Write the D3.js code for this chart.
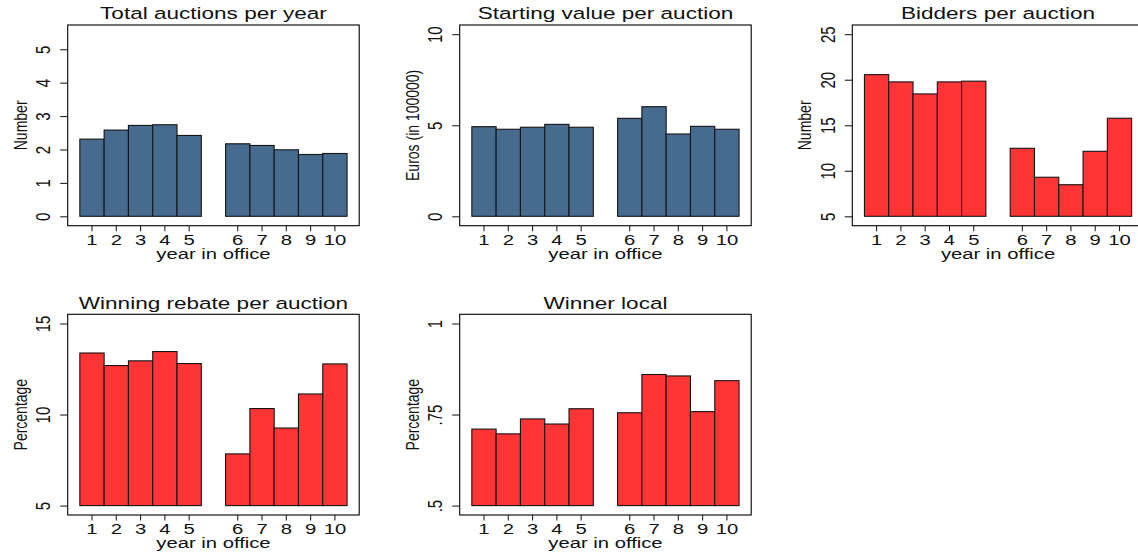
<!DOCTYPE html>
<html>
<head>
<meta charset="utf-8">
<script src="https://cdn.jsdelivr.net/npm/d3@7"></script>
<style>
  html, body { margin: 0; padding: 0; background: #fff; }
  svg { display: block; font-family: "Liberation Sans", Arial, Helvetica, sans-serif; }
</style>
</head>
<body>
<svg id="chart" width="1138" height="554"></svg>
<script>
// ---------- data ----------
const years = ["1","2","3","4","5","6","7","8","9","10"];
const xSlots = ["1","2","3","4","5","gap","6","7","8","9","10"];

const titles = ["Total auctions per year", "Starting value per auction", "Bidders per auction",
                "Winning rebate per auction", "Winner local"];
const yTitles = ["Number", "Euros (in 100000)", "Number", "Percentage", "Percentage"];

const auctionsPerYear = [2.31, 2.58, 2.72, 2.74, 2.42, 2.17, 2.12, 1.99, 1.85, 1.88];
const startingValue   = [4.92, 4.78, 4.89, 5.05, 4.89, 5.38, 6.02, 4.52, 4.94, 4.78];
const biddersPerAuct  = [20.56, 19.76, 18.44, 19.76, 19.84, 12.47, 9.29, 8.47, 12.14, 15.77];
const winningRebate   = [13.38, 12.69, 12.95, 13.46, 12.80, 7.84, 10.33, 9.26, 11.13, 12.78];
const winnerLocal     = [0.710, 0.697, 0.738, 0.724, 0.766, 0.755, 0.860, 0.856, 0.758, 0.843];

const ticksAuctions = [0, 1, 2, 3, 4, 5];
const ticksStarting = [0, 5, 10];
const ticksBidders  = [5, 10, 15, 20, 25];
const ticksRebate   = [5, 10, 15];
const ticksLocal    = [0.5, 0.75, 1];
const labelsLocal   = [".5", ".75", "1"];

const yDomains = [[0, 5.45], [0, 10], [5, 25], [5, 15], [0.5, 1]];

// ---------- layout ----------
const SX = 1.35;               // horizontal stretch of the original image
const frameW = 291.5, frameH = 200.7;
const lefts = [67.7, 459.7, 852.3, 67.7, 459.7];
const tops  = [25, 25, 25, 314.3, 314.3];
const blue = "#476b8e", red = "#ff3535";

const panels = [
  { values: auctionsPerYear, ticks: ticksAuctions, labels: null, color: blue },
  { values: startingValue,   ticks: ticksStarting, labels: null, color: blue },
  { values: biddersPerAuct,  ticks: ticksBidders,  labels: null, color: red },
  { values: winningRebate,   ticks: ticksRebate,   labels: null, color: red },
  { values: winnerLocal,     ticks: ticksLocal,    labels: labelsLocal, color: red }
];

const svg = d3.select("#chart");

panels.forEach((p, i) => {
  const L = lefts[i], T = tops[i], B = T + frameH;
  const g = svg.append("g");

  const x = d3.scaleBand().domain(xSlots).range([L, L + frameW]).paddingInner(0).paddingOuter(0.5);
  const y = d3.scaleLinear().domain(yDomains[i]).range([B - 9.4, T + 9.2]);
  const base = yDomains[i][0];

  // frame
  g.append("rect")
    .attr("x", L).attr("y", T).attr("width", frameW).attr("height", frameH)
    .attr("fill", "none").attr("stroke", "#000").attr("stroke-width", 1.1);

  // bars
  g.selectAll("rect.bar").data(p.values).join("rect")
    .attr("class", "bar")
    .attr("x", (d, j) => x(years[j]))
    .attr("width", x.bandwidth())
    .attr("y", d => y(d))
    .attr("height", d => y(base) - y(d))
    .attr("fill", p.color)
    .attr("stroke", "#151515")
    .attr("stroke-width", 1.1);

  // y axis
  const yAxis = d3.axisLeft(y).tickValues(p.ticks).tickSize(7.5)
    .tickFormat((d, j) => p.labels ? p.labels[j] : d3.format("~g")(d));
  const ya = g.append("g").attr("transform", `translate(${L},0)`).call(yAxis);
  ya.select(".domain").remove();
  ya.selectAll(".tick line").attr("stroke", "#222").attr("stroke-width", 1.1);
  ya.selectAll(".tick text")
    .attr("x", null).attr("dy", null)
    .attr("transform", `translate(-17.5,0) scale(${SX},1) rotate(-90)`)
    .attr("text-anchor", "middle")
    .attr("font-size", 15).attr("fill", "#111");

  // x axis
  const xAxis = d3.axisBottom(x).tickValues(years).tickSize(5.5);
  const xa = g.append("g").attr("transform", `translate(0,${B})`).call(xAxis);
  xa.select(".domain").remove();
  xa.selectAll(".tick line").attr("stroke", "#222").attr("stroke-width", 1.1);
  xa.selectAll(".tick text")
    .attr("y", null).attr("dy", null)
    .attr("transform", `translate(0,18.8) scale(${SX},1)`)
    .attr("text-anchor", "middle")
    .attr("font-size", 15).attr("fill", "#111");

  // titles
  const cx = L + frameW / 2;
  g.append("text")
    .attr("transform", `translate(${cx},${T - 5.7}) scale(${SX},1)`)
    .attr("text-anchor", "middle").attr("font-size", 16.7).attr("fill", "#111")
    .text(titles[i]);
  g.append("text")
    .attr("transform", `translate(${cx},${B + 33.3}) scale(${SX},1)`)
    .attr("text-anchor", "middle").attr("font-size", 15).attr("fill", "#111")
    .text("year in office");
  g.append("text")
    .attr("transform", `translate(${L - 41},${(T + B) / 2}) scale(${SX},1) rotate(-90)`)
    .attr("text-anchor", "middle").attr("font-size", 14).attr("fill", "#111")
    .text(yTitles[i]);
});
</script>
</body>
</html>
